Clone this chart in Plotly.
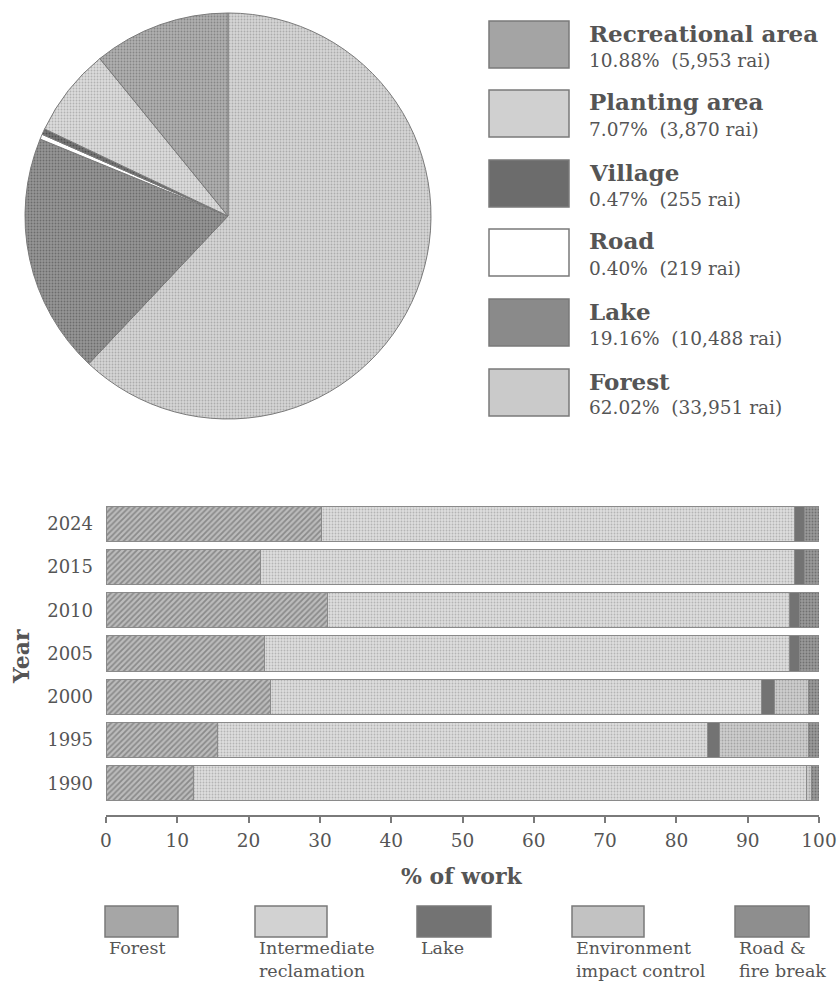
import plotly.graph_objects as go

W, H = 839, 984

# ---------------- data ----------------
pie_labels = ["Forest", "Lake", "Road", "Village", "Planting area", "Recreational area"]
pie_pct = [62.02, 19.16, 0.40, 0.47, 7.07, 10.88]
pie_rai = [33951, 10488, 219, 255, 3870, 5953]
pie_colors = ["#cacaca", "#8a8a8a", "#ffffff", "#6c6c6c", "#d0d0d0", "#a4a4a4"]

# legend order (top to bottom) for the pie
pie_legend_order = ["Recreational area", "Planting area", "Village", "Road", "Lake", "Forest"]

years = ["1990", "1995", "2000", "2005", "2010", "2015", "2024"]
bar_series = ["Forest", "Intermediate<br>reclamation", "Lake",
              "Environment<br>impact control", "Road &<br>fire break"]
forest = [12.3, 15.6, 23.1, 22.2, 31.1, 21.7, 30.2]
intermediate = [85.9, 68.8, 68.9, 73.7, 64.8, 74.8, 66.3]
lake = [0.0, 1.6, 1.7, 1.4, 1.4, 1.4, 1.4]
environment = [0.8, 12.5, 4.8, 0.0, 0.0, 0.0, 0.0]
road_fire = [1.0, 1.5, 1.5, 2.7, 2.7, 2.1, 2.1]
bar_values = [forest, intermediate, lake, environment, road_fire]
bar_colors = ["#a6a6a6", "#d2d2d2", "#737373", "#c2c2c2", "#8e8e8e"]

x_ticks = list(range(0, 101, 10))

FONT = "DejaVu Serif"
TXT = "#555555"
EDGE = "#7a7a7a"


def shade(hexc, d):
    v = int(hexc[1:3], 16)
    v = max(0, min(255, v + d))
    return "#%02x%02x%02x" % (v, v, v)


def px_x(x):
    return x / W


def px_y(y):
    return 1 - y / H


fig = go.Figure()

# ---------------- pie ----------------
fig.add_trace(go.Pie(
    labels=pie_labels,
    values=pie_rai,
    sort=False,
    direction="clockwise",
    rotation=0,
    textinfo="none",
    showlegend=False,
    marker=dict(
        colors=pie_colors,
        line=dict(color=EDGE, width=1),
        pattern=dict(
            shape=["." if c != "#ffffff" else "" for c in pie_colors],
            fillmode="replace",
            size=3,
            solidity=0.3,
            fgcolor=[shade(c, -30) for c in pie_colors],
            bgcolor=[shade(c, 12) for c in pie_colors],
        ),
    ),
    domain=dict(x=[px_x(25), px_x(431)], y=[px_y(419), px_y(13)]),
))

# ---------------- stacked bars ----------------
patterns = ["/", ".", "", ".", "."]
for name, vals, col, pat in zip(bar_series, bar_values, bar_colors, patterns):
    fig.add_trace(go.Bar(
        name=name,
        y=years,
        x=vals,
        orientation="h",
        showlegend=False,
        marker=dict(
            color=col,
            line=dict(color="#8a8a8a", width=1),
            pattern=dict(
                shape=pat,
                fillmode="replace",
                size=3 if pat == "." else 4,
                solidity=0.3 if pat == "." else 0.45,
                fgcolor=shade(col, -30) if pat == "." else shade(col, -28),
                bgcolor=shade(col, 12) if pat == "." else shade(col, 22),
            ),
        ),
        xaxis="x", yaxis="y",
    ))

fig.update_layout(
    width=W, height=H,
    margin=dict(l=0, r=0, t=0, b=0, autoexpand=False),
    paper_bgcolor="white",
    plot_bgcolor="white",
    barmode="stack",
    bargap=0.19,
    font=dict(family=FONT, color=TXT, size=18),
    xaxis=dict(
        domain=[px_x(106), px_x(819)],
        range=[0, 100],
        tickvals=x_ticks,
        ticktext=[str(t) for t in x_ticks],
        showline=True, linecolor=EDGE, linewidth=1.5,
        ticks="outside", ticklen=6, tickcolor=EDGE, tickwidth=1.5,
        showgrid=False, zeroline=False,
        tickfont=dict(family=FONT, size=18.5, color=TXT),
        ticklabelstandoff=2,
        automargin=False,
        fixedrange=True,
    ),
    yaxis=dict(
        domain=[px_y(815), px_y(502)],
        type="category",
        categoryorder="array",
        categoryarray=years,
        range=[-0.73, 6.5],
        showline=False, showgrid=False, zeroline=False,
        ticks="",
        tickfont=dict(family=FONT, size=18, color=TXT),
        ticklabelstandoff=12,
        automargin=False,
        fixedrange=True,
    ),
)

shapes = []
annotations = []

# pie legend (custom swatches + text)
box_tops = [21, 90, 160, 229, 299, 369]
for top, name in zip(box_tops, pie_legend_order):
    i = pie_labels.index(name)
    shapes.append(dict(
        type="rect", xref="paper", yref="paper",
        x0=px_x(489), x1=px_x(569), y0=px_y(top + 47), y1=px_y(top),
        fillcolor=pie_colors[i], line=dict(color=EDGE, width=1.5),
    ))
    annotations.append(dict(
        xref="paper", yref="paper", x=px_x(587), y=px_y(top + 12),
        xanchor="left", yanchor="middle", showarrow=False,
        text="<b>%s</b>" % name,
        font=dict(family=FONT, size=23, color=TXT),
    ))
    annotations.append(dict(
        xref="paper", yref="paper", x=px_x(587), y=px_y(top + 39),
        xanchor="left", yanchor="middle", showarrow=False,
        text="%.2f%%\u00a0 (%s rai)" % (pie_pct[i], format(pie_rai[i], ",")),
        font=dict(family=FONT, size=18.5, color=TXT),
    ))

# axis titles
annotations.append(dict(
    xref="paper", yref="paper", x=px_x(462), y=px_y(876),
    xanchor="center", yanchor="middle", showarrow=False,
    text="<b>% of work</b>", font=dict(family=FONT, size=22, color=TXT),
))
annotations.append(dict(
    xref="paper", yref="paper", x=px_x(21), y=px_y(657),
    xanchor="center", yanchor="middle", showarrow=False, textangle=-90,
    text="<b>Year</b>", font=dict(family=FONT, size=22, color=TXT),
))

# bar legend
leg_x = [(105, 178), (255, 327), (417, 491), (572, 644), (735, 809)]
for (x0, x1), name, col in zip(leg_x, bar_series, bar_colors):
    shapes.append(dict(
        type="rect", xref="paper", yref="paper",
        x0=px_x(x0), x1=px_x(x1), y0=px_y(937), y1=px_y(906),
        fillcolor=col, line=dict(color=EDGE, width=1.5),
    ))
    two_line = "<br>" in name
    annotations.append(dict(
        xref="paper", yref="paper", x=px_x(x0 + 2),
        y=px_y(983) if two_line else px_y(948),
        xanchor="left", yanchor="bottom" if two_line else "middle",
        showarrow=False, align="left",
        text=name, font=dict(family=FONT, size=17.5, color=TXT),
    ))

fig.update_layout(shapes=shapes, annotations=annotations)

fig.write_html("out.html")
